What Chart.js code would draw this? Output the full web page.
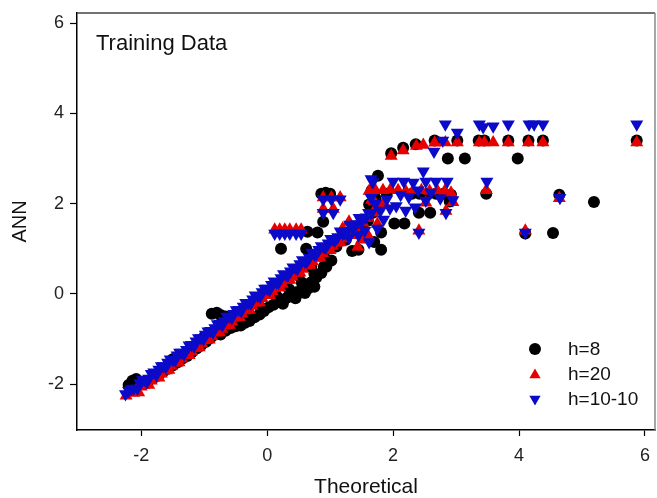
<!DOCTYPE html>
<html><head><meta charset="utf-8">
<script src="https://cdn.jsdelivr.net/npm/chart.js@4.4.1/dist/chart.umd.min.js"></script>
<style>html,body{margin:0;padding:0;background:#fff;}#wrap{width:657px;height:498px;}</style>
</head><body><div id="wrap"><canvas id="c" width="657" height="498"></canvas></div>
<script>
const panelLabel = 'Training Data';
const xTitle = 'Theoretical';
const yTitle = 'ANN';
const seriesNames = ['h=8', 'h=20', 'h=10-10'];
const xTicks = [-2, 0, 2, 4, 6];
const yTicks = [-2, 0, 2, 4, 6];

const h8X = [-2.2,-2.14,-2.08,-2.02,-1.95,-1.88,-1.8,-1.72,-1.65,-1.58,-1.5,-1.42,-1.35,-1.27,-1.2,-1.12,-1.05,-0.97,-0.9,-0.82,
 -0.88,-0.8,-0.74,-0.66,-0.6,
 -0.74,-0.66,-0.58,-0.5,-0.42,-0.35,-0.28,-0.2,-0.12,-0.05,0.02,0.1,0.18,0.25,0.32,0.4,0.48,0.55,0.62,0.7,0.78,0.86,0.94,1.02,0.6,0.75,
 -0.45,-0.3,-0.1,0.15,0.35,0.55,0.75,0.9,0.45,0.65,0.25,
 -1.5,-1.0,-0.5,-0.2,0.1,0.3,0.5,0.7,0.9,1.1,1.25,1.4,1.5,1.6,1.68,1.62,1.72,1.66,1.7,
 0.86,0.93,1.0,0.89,0.22,0.62,0.64,0.8,1.35,1.45,1.81,1.81,2.02,2.18,2.41,2.59,1.76,1.9,2.3,2.42,2.55,2.68,2.8,2.9,2.92,
 1.97,2.16,2.36,2.66,3.02,3.36,3.45,3.83,4.15,4.38,5.87,2.87,3.14,3.98,3.48,4.64,5.19,4.54,4.1];
const h8Y = [-2.02,-1.93,-1.89,-2.0,-1.95,-1.92,-1.86,-1.8,-1.72,-1.66,-1.59,-1.52,-1.44,-1.38,-1.3,-1.21,-1.14,-1.06,-0.98,-0.9,
 -0.44,-0.42,-0.47,-0.5,-0.56,
 -0.9,-0.82,-0.76,-0.72,-0.7,-0.64,-0.6,-0.52,-0.46,-0.38,-0.3,-0.24,-0.18,-0.14,-0.08,-0.02,0.04,0.08,0.14,0.26,0.36,0.46,0.6,0.74,0.02,0.16,
 -0.6,-0.5,-0.3,-0.05,0.1,0.25,0.45,0.6,-0.1,0.12,-0.22,
 -1.45,-0.95,-0.45,-0.15,0.05,0.25,0.4,0.6,0.85,1.05,1.2,1.35,1.5,1.62,1.8,1.98,2.12,2.3,1.15,
 2.22,2.24,2.22,1.6,1.0,1.0,1.38,1.36,0.95,0.98,0.98,1.36,1.56,1.56,1.8,1.8,2.62,2.22,2.22,2.22,2.22,2.22,2.22,2.05,2.2,
 3.12,3.24,3.32,3.4,3.4,3.4,3.4,3.4,3.4,3.4,3.4,3.0,3.0,3.0,2.22,2.2,2.04,1.35,1.34];

const h20X = [-2.24,-2.16,-2.08,-2.0,-1.92,-1.84,-1.76,-1.68,-1.6,-1.52,-1.44,-1.36,-1.28,-1.2,-1.12,-1.04,-0.96,-0.88,-0.8,-0.72,-0.64,-0.56,-0.48,-0.4,-0.32,-0.24,-0.16,-0.08,0.0,0.08,0.16,0.24,0.32,0.4,0.48,0.56,0.64,0.72,0.8,0.88,0.96,1.04,1.12,1.2,1.28,1.36,1.44,1.5,1.44,1.52,1.6,1.68,1.76,1.84,1.7,1.3,1.2,
 -2.12,-2.04,-1.96,-1.88,-1.8,-1.72,-1.64,-1.56,-1.48,-1.4,-1.32,-1.24,-1.16,-1.08,-1.0,-0.92,-0.84,-0.76,-0.68,-0.6,-0.52,-0.44,-0.36,-0.28,-0.2,-0.12,-0.04,0.04,0.12,0.2,0.28,0.36,0.44,0.52,0.6,0.68,0.76,0.84,0.92,1.0,1.08,1.16,1.24,1.32,1.4,
 0.12,0.2,0.28,0.36,0.46,0.54,0.89,1.02,1.16,0.89,1.05,
 1.62,1.72,1.84,1.96,2.08,2.2,2.32,2.45,2.58,2.7,2.82,2.92,1.66,1.85,2.52,2.84,2.95,2.41,1.6,1.75,
 1.97,2.16,2.37,2.48,2.66,2.83,3.02,3.37,3.45,3.59,3.83,4.15,4.38,5.87,3.48,4.64,4.1];
const h20Y = [-2.26,-2.18,-2.14,-2.06,-2.0,-1.93,-1.84,-1.77,-1.7,-1.6,-1.53,-1.44,-1.36,-1.28,-1.2,-1.1,-1.02,-0.94,-0.86,-0.78,-0.7,-0.62,-0.52,-0.44,-0.36,-0.27,-0.19,-0.1,-0.02,0.06,0.14,0.22,0.3,0.38,0.46,0.55,0.63,0.72,0.8,0.9,0.98,1.06,1.14,1.22,1.3,1.38,1.04,1.2,1.48,1.58,1.68,1.8,1.9,2.0,2.05,1.6,1.45,
 -2.2,-2.19,-2.03,-2.02,-1.86,-1.86,-1.7,-1.69,-1.53,-1.52,-1.36,-1.36,-1.2,-1.19,-1.03,-1.02,-0.86,-0.86,-0.7,-0.69,-0.53,-0.52,-0.37,-0.36,-0.2,-0.19,-0.03,-0.03,0.13,0.14,0.3,0.31,0.47,0.47,0.63,0.64,0.8,0.8,0.97,0.97,1.13,1.14,1.3,1.3,1.47,
 1.42,1.42,1.42,1.42,1.42,1.42,2.14,2.14,2.14,1.88,1.88,
 2.28,2.3,2.3,2.32,2.3,2.28,2.3,2.3,2.28,2.3,2.28,2.24,2.08,2.02,2.02,1.84,2.03,1.4,1.3,1.55,
 3.06,3.18,3.28,3.3,3.35,3.36,3.36,3.36,3.36,3.36,3.36,3.36,3.36,3.36,2.3,2.12,1.4];

const h1010X = [-2.25,-2.2,-2.12,-2.02,-1.95,-1.88,-1.8,-1.72,-1.65,-1.58,-1.5,-1.43,-1.36,-1.28,-1.2,-1.13,-1.05,-0.98,-0.9,-0.83,-0.75,-0.68,-0.6,-0.53,-0.45,-0.38,-0.3,-0.23,-0.15,-0.08,0,0.07,0.15,0.22,0.3,0.37,0.45,0.52,0.6,0.67,0.75,0.82,0.9,0.97,1.05,1.12,1.2,1.27,1.35,1.42,1.5,1.57,1.65,
 -2.16,-2.06,-1.98,-1.91,-1.84,-1.76,-1.68,-1.61,-1.54,-1.46,-1.39,-1.32,-1.24,-1.16,-1.09,-1.01,-0.94,-0.86,-0.79,-0.71,-0.64,-0.56,-0.49,-0.41,-0.34,-0.26,-0.19,-0.11,-0.04,0.04,0.11,0.18,0.26,0.33,0.41,0.48,0.56,0.63,0.71,0.78,0.86,0.93,1.01,1.08,1.16,1.23,1.31,1.38,1.46,1.53,1.61,
 1.3,1.45,1.55,1.62,1.75,1.85,1.95,1.8,1.72,1.9,2.05,2.2,2.35,2.12,2.25,2.4,2.6,2.75,
 0.12,0.2,0.28,0.36,0.46,0.54,0.89,1.02,1.16,0.89,1.05,1.65,1.65,1.68,2.0,2.17,2.32,2.52,2.68,2.86,2.48,2.52,2.84,2.95,2.41,3.49,4.1,4.65,
 2.65,2.79,2.83,3.02,3.37,3.43,3.59,3.83,4.16,4.24,4.38,5.87];
const h1010Y = [-2.22,-2.15,-2.1,-1.98,-1.9,-1.88,-1.74,-1.68,-1.6,-1.52,-1.46,-1.36,-1.3,-1.24,-1.13,-1.05,-0.98,-0.9,-0.82,-0.76,-0.66,-0.6,-0.5,-0.44,-0.35,-0.28,-0.2,-0.12,-0.04,0.04,0.12,0.2,0.26,0.35,0.42,0.5,0.58,0.66,0.72,0.8,0.88,0.98,1.04,1.12,1.2,1.26,1.34,1.4,1.46,1.55,1.6,1.7,1.78,
 -2.11,-2.1,-1.91,-1.95,-1.77,-1.8,-1.6,-1.63,-1.45,-1.47,-1.3,-1.34,-1.14,-1.16,-0.98,-1.0,-0.83,-0.85,-0.67,-0.69,-0.5,-0.53,-0.36,-0.38,-0.2,-0.21,-0.03,-0.06,0.12,0.09,0.28,0.25,0.44,0.41,0.59,0.55,0.75,0.72,0.92,0.88,1.06,1.03,1.22,1.19,1.39,1.35,1.54,1.5,1.69,1.67,1.8,
 1.25,1.3,1.4,1.15,1.45,1.65,1.9,1.85,2.0,2.1,1.95,1.85,1.92,2.2,2.15,2.3,2.25,2.12,
 1.34,1.34,1.34,1.34,1.34,1.34,2.1,2.1,2.1,1.8,1.8,2.13,2.55,2.48,2.49,2.49,2.47,2.49,2.49,2.49,2.72,2.07,1.8,2.08,1.36,2.49,1.36,2.13,
 3.16,3.4,3.76,3.58,3.76,3.7,3.72,3.76,3.76,3.76,3.76,3.76];

const colors = ['#000000', '#e60000', '#0a0ac8'];
const toPts = (xs, ys) => xs.map((x, i) => ({x: x, y: ys[i]}));
const FONT = 'Arial, "Liberation Sans", sans-serif';

function marker(ctx, kind, x, y, r, color) {
  ctx.fillStyle = color;
  ctx.beginPath();
  if (kind === 0) {
    ctx.arc(x, y, r, 0, Math.PI * 2);
  } else {
    const s = kind === 1 ? 1 : -1;
    ctx.moveTo(x, y - s * r);
    ctx.lineTo(x + r * 0.866, y + s * r * 0.5);
    ctx.lineTo(x - r * 0.866, y + s * r * 0.5);
    ctx.closePath();
  }
  ctx.fill();
}

const decor = {
  id: 'decor',
  afterDraw(chart) {
    const {ctx, chartArea: a} = chart;
    ctx.save();
    ctx.lineWidth = 1.5;
    ctx.strokeStyle = '#444';
    ctx.beginPath(); ctx.moveTo(a.left, a.top); ctx.lineTo(a.right, a.top); ctx.stroke();
    ctx.strokeStyle = '#888';
    ctx.beginPath(); ctx.moveTo(a.right, a.top); ctx.lineTo(a.right, a.bottom); ctx.stroke();
    ctx.fillStyle = '#111';
    ctx.font = '22px ' + FONT;
    ctx.textAlign = 'left';
    ctx.textBaseline = 'alphabetic';
    ctx.fillText(panelLabel, a.left + 19, a.top + 37);
    ctx.font = '19px ' + FONT;
    ctx.textBaseline = 'middle';
    seriesNames.forEach((name, i) => {
      const y = 349 + i * 25;
      marker(ctx, i, 535, y + (i === 1 ? 1 : 0), i === 0 ? 6 : 6.5, colors[i]);
      ctx.fillStyle = '#111';
      ctx.fillText(name, 568, y + 1);
    });
    ctx.restore();
  }
};

const ds = [
  {label: seriesNames[0], data: toPts(h8X, h8Y), pointStyle: 'circle', pointRadius: 6, pointRotation: 0, order: 3},
  {label: seriesNames[1], data: toPts(h20X, h20Y), pointStyle: 'triangle', pointRadius: 7.5, pointRotation: 0, order: 2},
  {label: seriesNames[2], data: toPts(h1010X, h1010Y), pointStyle: 'triangle', pointRadius: 7.5, pointRotation: 180, order: 1}
].map((d, i) => Object.assign(d, {
  backgroundColor: colors[i], borderColor: colors[i], pointBackgroundColor: colors[i],
  pointBorderColor: colors[i], pointBorderWidth: 0, pointHoverRadius: d.pointRadius, showLine: false
}));

const tickFont = {family: FONT, size: 18};
new Chart(document.getElementById('c'), {
  type: 'scatter',
  data: {datasets: ds},
  options: {
    responsive: false, animation: false, devicePixelRatio: 1,
    events: [],
    layout: {autoPadding: false, padding: {left: 0, top: 13, right: 2, bottom: 0}},
    plugins: {legend: {display: false}, tooltip: {enabled: false}},
    scales: {
      x: {
        type: 'linear', position: 'bottom', min: -3.02, max: 6.16,
        afterBuildTicks: s => { s.ticks = xTicks.map(v => ({value: v})); },
        afterFit: s => { s.height = 68; s.paddingLeft = 0; s.paddingRight = 0; },
        border: {display: true, color: '#000', width: 1.5},
        grid: {display: true, drawOnChartArea: false, drawTicks: true, tickLength: 6, tickColor: '#000', tickWidth: 1.2},
        ticks: {color: '#222', font: tickFont, padding: 9, maxRotation: 0},
        title: {display: true, text: xTitle, color: '#111', font: {family: FONT, size: 21, lineHeight: 1}, padding: {top: 0, bottom: 0}}
      },
      y: {
        type: 'linear', position: 'left', min: -3.02, max: 6.23,
        afterBuildTicks: s => { s.ticks = yTicks.map(v => ({value: v})); },
        afterFit: s => { s.width = 77; s.paddingTop = 0; s.paddingBottom = 0; },
        border: {display: true, color: '#000', width: 1.5},
        grid: {display: true, drawOnChartArea: false, drawTicks: true, tickLength: 7, tickColor: '#000', tickWidth: 1.2},
        ticks: {color: '#222', font: tickFont, padding: 6},
        title: {display: true, text: yTitle, color: '#111', font: {family: FONT, size: 20, lineHeight: 1}, padding: {top: 10, bottom: 0}}
      }
    }
  },
  plugins: [decor]
});
</script></body></html>
